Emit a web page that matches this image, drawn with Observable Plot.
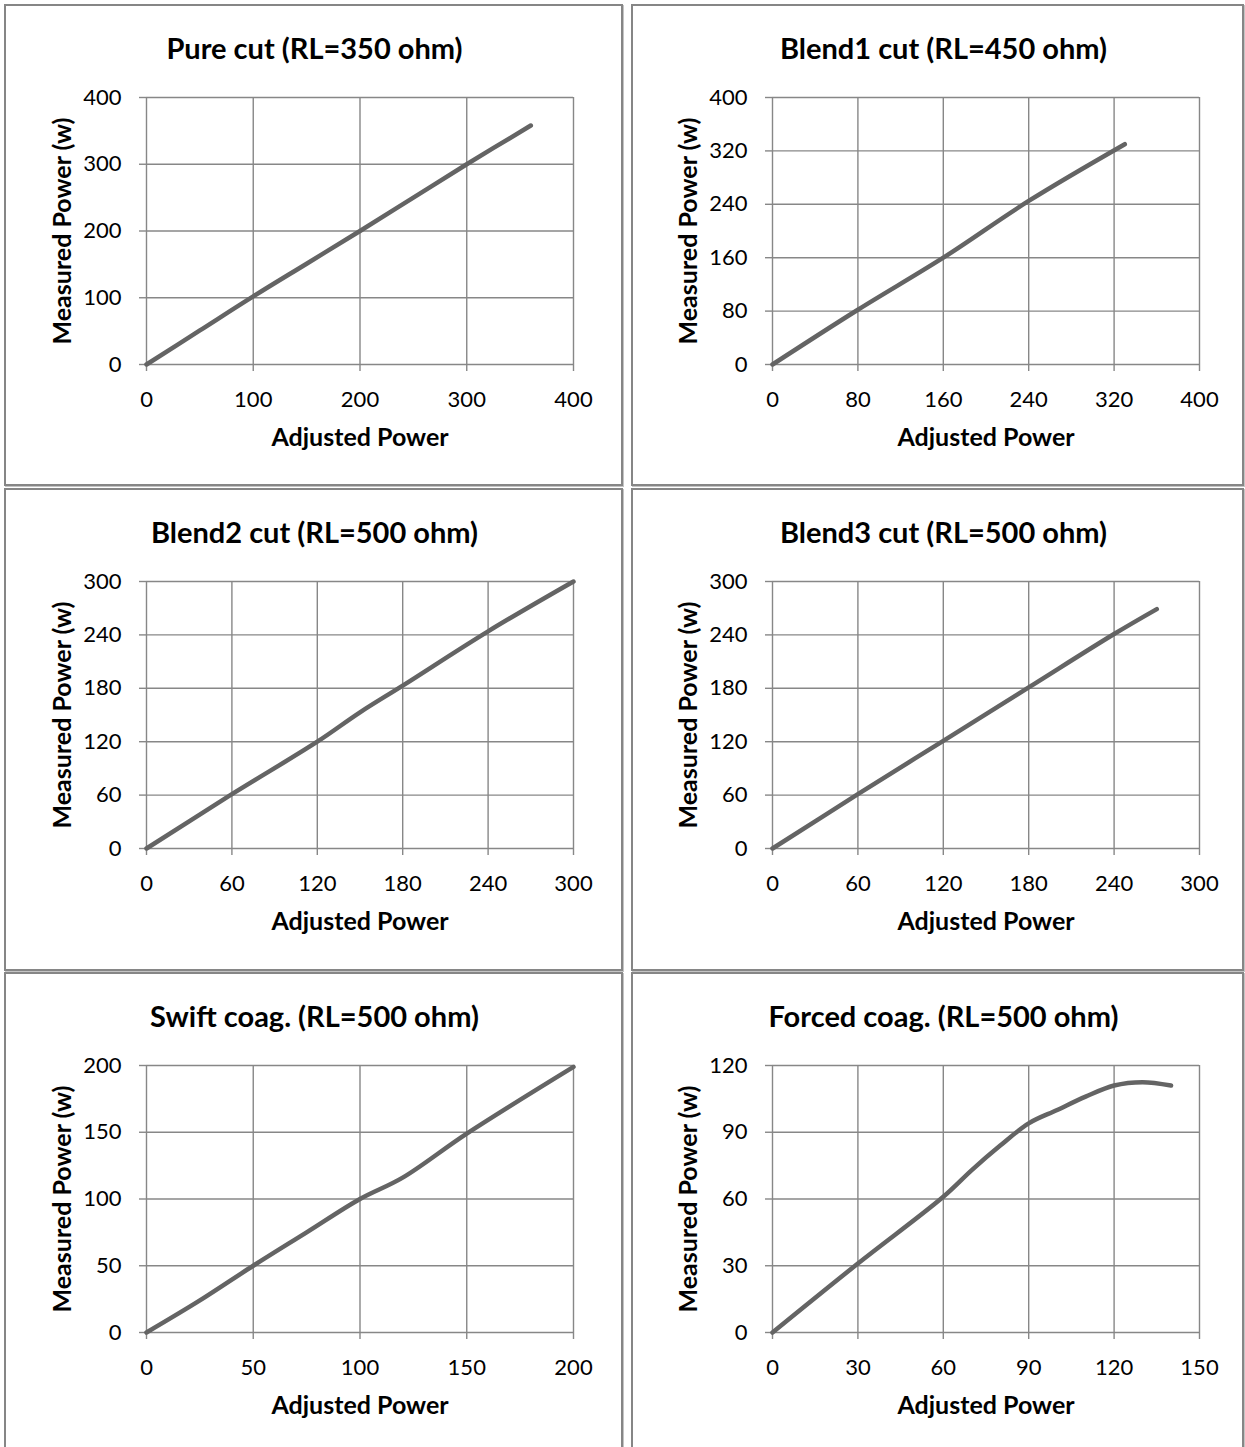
<!DOCTYPE html>
<html><head><meta charset="utf-8">
<script src="https://cdn.jsdelivr.net/npm/d3@7"></script>
<script src="https://cdn.jsdelivr.net/npm/@observablehq/plot@0.6"></script>
<style>
body{margin:0;background:#fff;}
#page{position:relative;width:1245px;height:1447px;overflow:hidden;background:#fff;font-family:Lato,sans-serif;}
.panel{position:absolute;box-sizing:border-box;border:2px solid #868686;box-shadow:1px 1px 0 #c4c4c4;}
.title{position:absolute;text-align:center;font-weight:bold;font-size:29px;line-height:30px;color:#000;white-space:nowrap;}
.chart{position:absolute;}
</style></head><body><div id="page"></div>
<script>
// ---- data ----
const titles = ["Pure cut (RL=350 ohm)", "Blend1 cut (RL=450 ohm)", "Blend2 cut (RL=500 ohm)", "Blend3 cut (RL=500 ohm)", "Swift coag. (RL=500 ohm)", "Forced coag. (RL=500 ohm)"];
const xLabel = "Adjusted Power";
const yLabel = "Measured Power (w)";
const xTicks = [[0,100,200,300,400],[0,80,160,240,320,400],[0,60,120,180,240,300],[0,60,120,180,240,300],[0,50,100,150,200],[0,30,60,90,120,150]];
const yTicks = [[0,100,200,300,400],[0,80,160,240,320,400],[0,60,120,180,240,300],[0,60,120,180,240,300],[0,50,100,150,200],[0,30,60,90,120]];

const pureX   = [0, 50, 100, 150, 200, 250, 300, 360];
const pureY   = [0, 51, 102, 151, 200, 250, 300, 358];
const blend1X = [0, 80, 160, 240, 330];
const blend1Y = [0, 82, 160, 245, 330];
const blend2X = [0, 60, 120, 150, 180, 240, 300];
const blend2Y = [0, 61, 120, 153, 183, 244, 300];
const blend3X = [0, 60, 120, 180, 240, 270];
const blend3Y = [0, 61, 121, 181, 241, 269];
const swiftX  = [0, 25, 50, 75, 100, 120, 150, 200];
const swiftY  = [0, 24, 50, 75, 100, 116, 149, 199];
const forcedX = [0, 30, 60, 70, 80, 90, 100, 110, 120, 130, 140];
const forcedY = [0, 31, 61, 73, 84, 94, 100, 106, 111, 112.5, 111];

const seriesX = [pureX, blend1X, blend2X, blend3X, swiftX, forcedX];
const seriesY = [pureY, blend1Y, blend2Y, blend3Y, swiftY, forcedY];

// ---- layout ----
const colLeft = [4, 631], colWidth = [619, 613];
const rowTop = [4, 488, 972], rowHeight = [482, 483, 480];
const page = document.getElementById("page");
const GRID = "#878787";

for (let i = 0; i < 6; i++) {
  const c = i % 2, r = Math.floor(i / 2);
  const px = colLeft[c], py = rowTop[r], pw = colWidth[c];
  const panel = document.createElement("div");
  panel.className = "panel";
  Object.assign(panel.style, {left: px + "px", top: py + "px", width: pw + "px", height: rowHeight[r] + "px"});
  page.appendChild(panel);

  const t = document.createElement("div");
  t.className = "title";
  t.textContent = titles[i];
  Object.assign(t.style, {left: (px + (c === 0 ? 1 : 6)) + "px", width: pw + "px", top: (py + 29) + "px"});
  page.appendChild(t);

  const data = seriesX[i].map((x, k) => ({x, y: seriesY[i][k]}));
  const xt = xTicks[i], yt = yTicks[i];
  const svg = Plot.plot({
    width: pw, height: 410,
    marginLeft: c === 0 ? 142 : 141, marginRight: c === 0 ? 50 : 45,
    marginTop: 27, marginBottom: 116,
    style: {fontFamily: "Lato, sans-serif", fontSize: "22px", color: "#000", background: "transparent", overflow: "visible"},
    x: {domain: [0, xt[xt.length - 1]]},
    y: {domain: [0, yt[yt.length - 1]]},
    marks: [
      Plot.gridX(xt, {stroke: GRID, strokeOpacity: 1, strokeWidth: 1.4}),
      Plot.gridY(yt, {stroke: GRID, strokeOpacity: 1, strokeWidth: 1.4}),
      Plot.axisX(xt, {tickSize: 7, tickPadding: 20, stroke: GRID, strokeWidth: 1.4, label: null}),
      Plot.axisY(yt, {tickSize: 7, tickPadding: 18, stroke: GRID, strokeWidth: 1.4, label: null}),
      Plot.text([xLabel], {frameAnchor: "bottom", dy: 73, lineAnchor: "middle", text: d => d, fontWeight: "bold", fontSize: 25, fill: "#000"}),
      Plot.text([yLabel], {frameAnchor: "left", dx: -84, rotate: -90, textAnchor: "middle", lineAnchor: "middle", text: d => d, fontWeight: "bold", fontSize: 25, fill: "#000"}),
      Plot.line(data, {x: "x", y: "y", stroke: "#646464", strokeWidth: 4.5, curve: "catmull-rom", strokeLinecap: "round", strokeLinejoin: "round"})
    ]
  });
  svg.classList.add("chart");
  Object.assign(svg.style, {left: px + "px", top: (py + 66) + "px"});
  page.appendChild(svg);
}
</script>
</body></html>
